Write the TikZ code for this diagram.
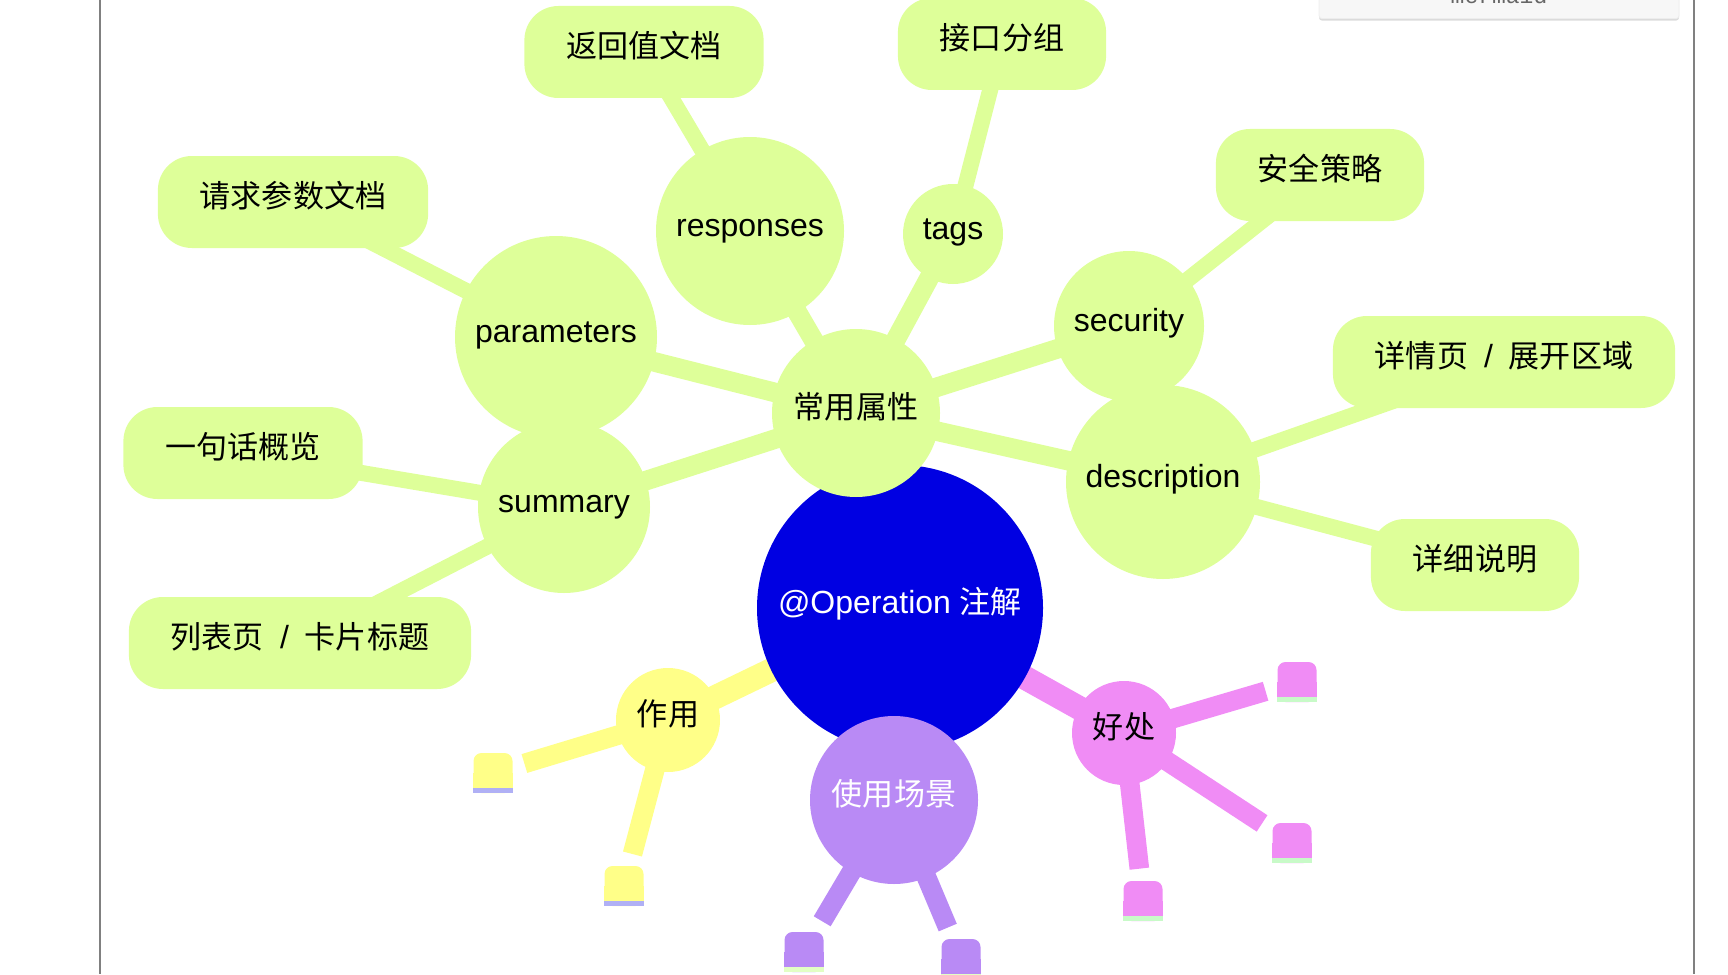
\documentclass[tikz,border=0pt]{standalone}
\usepackage{fontspec}
\setmainfont{Liberation Sans}
\newfontfamily\cjk[Scale=0.97]{Noto Sans CJK SC}
\newfontfamily\monofont{Liberation Mono}
\definecolor{AttrGreen}{RGB}{222,255,153}
\definecolor{RootBlue}{RGB}{0,0,226}
\definecolor{UseYellow}{RGB}{255,255,136}
\definecolor{ScenePurple}{RGB}{185,138,245}
\definecolor{GainPink}{RGB}{240,140,245}
\definecolor{YellowLine}{RGB}{176,176,245}
\definecolor{PurpleLine}{RGB}{226,255,196}
\definecolor{PinkLine}{RGB}{200,250,200}
\definecolor{FrameGray}{RGB}{128,128,128}
\definecolor{TagGray}{RGB}{247,247,247}
\usetikzlibrary{arrows.meta, positioning, calc, backgrounds}

\begin{document}
\begin{tikzpicture}[x=0.5pt, y=-0.5pt,
		font=\fontsize{16pt}{19pt}\selectfont,
		hub/.style={circle, inner sep=0pt, text height=13pt, text depth=7.6pt},
		leaf/.style={rectangle, rounded corners=17pt, fill=AttrGreen, minimum height=46pt, inner xsep=21pt, text height=13pt, text depth=7.6pt},
		stub/.style={rectangle, rounded corners=4pt, minimum width=19.5pt, minimum height=20pt, inner sep=0pt},
		br0/.style={line width=12pt},
		br1/.style={line width=9.8pt},
		br2/.style={line width=8pt},
		gap/.style={shorten >=6pt}]
	\useasboundingbox (0,0) rectangle (1728,974);
	% page frame
	\draw[FrameGray, line width=1pt] (100,0) -- (100,974);
	\draw[FrameGray, line width=1pt] (1694,0) -- (1694,974);
	% mermaid tag
	\node[fill=black!14, minimum width=180pt, minimum height=20pt, rounded corners=1.5pt, inner sep=0pt, anchor=south] (tagshade) at (1499,21) {};
	\node[fill=TagGray, draw=black!7, minimum width=180pt, minimum height=20pt, rounded corners=1.5pt, inner sep=0pt, anchor=south] (tagbox) at (1499,19) {};
	\node[anchor=base, inner sep=0pt, text=black!60, font={\monofont\fontsize{11.5pt}{13pt}\selectfont}] (tagtext) at (1499,4) {mermaid};

	% root and first level
	\node[hub, fill=RootBlue, text=white, minimum size=143pt] (root) at (900,608) {@Operation {\cjk 注解}};
	\node[hub, fill=AttrGreen, minimum size=84pt] (attr) at (856,413) {{\cjk 常用属性}};
	\node[hub, fill=UseYellow, minimum size=52pt] (use) at (668,720) {{\cjk 作用}};
	\node[hub, fill=ScenePurple, text=white, minimum size=84pt] (scene) at (894,800) {{\cjk 使用场景}};
	\node[hub, fill=GainPink, minimum size=52pt] (gain) at (1124,733) {{\cjk 好处}};

	% attributes
	\node[hub, fill=AttrGreen, minimum size=101pt] (param) at (556,337) {parameters};
	\node[hub, fill=AttrGreen, minimum size=86pt] (summ) at (564,507) {summary};
	\node[hub, fill=AttrGreen, minimum size=94pt] (resp) at (750,231) {responses};
	\node[hub, fill=AttrGreen, minimum size=50pt] (tags) at (953,234) {tags};
	\node[hub, fill=AttrGreen, minimum size=75pt] (secu) at (1129,326) {security};
	\node[hub, fill=AttrGreen, minimum size=97pt] (desc) at (1163,482) {description};

	\node[leaf] (paramdoc) at (293,202) {{\cjk 请求参数文档}};
	\node[leaf] (brief) at (243,453) {{\cjk 一句话概览}};
	\node[leaf] (listtitle) at (300,643) {{\cjk 列表页}\enspace/\enspace{\cjk 卡片标题}};
	\node[leaf] (respdoc) at (644,52) {{\cjk 返回值文档}};
	\node[leaf] (group) at (1002,44) {{\cjk 接口分组}};
	\node[leaf] (policy) at (1320,175) {{\cjk 安全策略}};
	\node[leaf] (detailpage) at (1504,362) {{\cjk 详情页}\enspace/\enspace{\cjk 展开区域}};
	\node[leaf] (detaildoc) at (1475,565) {{\cjk 详细说明}};

	% empty leaves
	\node[stub, fill=UseYellow] (use1) at (493,773) {};
	\node[stub, fill=UseYellow] (use2) at (624,886) {};
	\node[stub, fill=ScenePurple] (scene1) at (804,952) {};
	\node[stub, fill=ScenePurple] (scene2) at (961,959) {};
	\node[stub, fill=GainPink] (gain1) at (1297,682) {};
	\node[stub, fill=GainPink] (gain2) at (1292,843) {};
	\node[stub, fill=GainPink] (gain3) at (1143,901) {};
	\foreach \s/\c/\l in {use1/UseYellow/YellowLine, use2/UseYellow/YellowLine,
			scene1/ScenePurple/PurpleLine, scene2/ScenePurple/PurpleLine,
			gain1/GainPink/PinkLine, gain2/GainPink/PinkLine, gain3/GainPink/PinkLine}{
		\fill[\c] (\s.west) rectangle (\s.south east);
		\fill[\l] (\s.south west) rectangle ([yshift=2.5pt]\s.south east);
	}

	% branches
	\begin{scope}[on background layer]
		\draw[br0, AttrGreen] (root.center) -- (attr.center);
		\draw[br0, UseYellow] (root.center) -- (use.center);
		\draw[br0, ScenePurple] (root.center) -- (scene.center);
		\draw[br0, GainPink] (root.center) -- (gain.center);
		\foreach \k in {param, summ, resp, tags, secu, desc}
			\draw[br1, AttrGreen] (attr.center) -- (\k.center);
		\draw[br2, AttrGreen] (param.center) -- (paramdoc.center);
		\draw[br2, AttrGreen] (summ.center) -- (brief.center);
		\draw[br2, AttrGreen] (summ.center) -- (listtitle.center);
		\draw[br2, AttrGreen] (resp.center) -- (respdoc.center);
		\draw[br2, AttrGreen] (tags.center) -- (group.center);
		\draw[br2, AttrGreen] (secu.center) -- (policy.center);
		\draw[br2, AttrGreen] (desc.center) -- (detailpage.center);
		\draw[br2, AttrGreen] (desc.center) -- (detaildoc.center);
		\draw[br1, UseYellow, gap] (use.center) -- (use1);
		\draw[br1, UseYellow, gap] (use.center) -- (use2);
		\draw[br1, ScenePurple, gap] (scene.center) -- (scene1);
		\draw[br1, ScenePurple, gap] (scene.center) -- (scene2);
		\draw[br1, GainPink, gap] (gain.center) -- (gain1);
		\draw[br1, GainPink, gap] (gain.center) -- (gain2);
		\draw[br1, GainPink, gap] (gain.center) -- (gain3);
	\end{scope}
\end{tikzpicture}
\end{document}
